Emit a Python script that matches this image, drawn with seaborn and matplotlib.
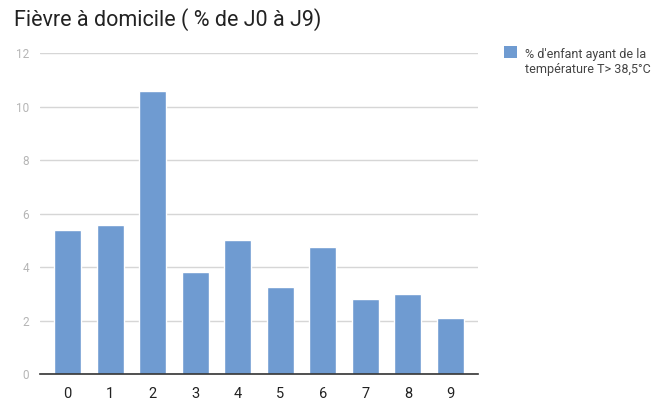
import matplotlib
matplotlib.use("Agg")
import matplotlib.pyplot as plt
from matplotlib.patches import Patch, Rectangle
from matplotlib.legend_handler import HandlerPatch
import seaborn as sns
import pandas as pd

# data
days = ["0", "1", "2", "3", "4", "5", "6", "7", "8", "9"]
fever_pct = [5.38, 5.57, 10.59, 3.80, 5.0, 3.26, 4.77, 2.79, 3.0, 2.08]
y_ticks = [0, 2, 4, 6, 8, 10, 12]
title = "Fièvre à domicile ( % de J0 à J9)"
series_label = "% d'enfant ayant de la\ntempérature T> 38,5°C"

bar_color = "#6f9bd1"

sns.set_theme(style="white")
plt.rcParams["font.family"] = ["Roboto", "DejaVu Sans"]

df = pd.DataFrame({"day": days, "pct": fever_pct})

fig = plt.figure(figsize=(6.51, 4.0), dpi=100)
ax = fig.add_axes([40 / 651, 1 - 374 / 400, 438 / 651, (374 - 53.3) / 400])

sns.barplot(data=df, x="day", y="pct", color=bar_color, width=0.64,
            saturation=1, ax=ax, zorder=3)

ax.set_ylim(0, 12)
ax.set_xlim(-0.65, 9.65)
ax.set_yticks(y_ticks)
ax.set_xlabel("")
ax.set_ylabel("")
ax.grid(axis="y", color="#d6d6d6", linewidth=1, zorder=0)
ax.grid(axis="x", visible=False)
for s in ["top", "right", "left"]:
    ax.spines[s].set_visible(False)
ax.spines["bottom"].set_color("#333333")
ax.spines["bottom"].set_linewidth(1.2)
ax.spines["bottom"].set_zorder(4)

ax.tick_params(axis="y", length=0, pad=8, labelsize=8.5, labelcolor="#b5b5b5")
ax.tick_params(axis="x", length=0, pad=9, labelsize=10.5, labelcolor="#222222")

fig.text(14 / 651, 1 - 20 / 400, title, fontsize=15.5, color="#222222",
         ha="left", va="center")


# legend square sits next to the first text line, not centred on both
def top_square(legend, orig_handle, xdescent, ydescent, width, height, fontsize):
    return Rectangle((-xdescent, -ydescent + 7.5), width, height)


handle = Patch(facecolor=bar_color, edgecolor="none")
fig.legend([handle], [series_label], loc="upper left",
           bbox_to_anchor=(499 / 651, 1 - 43 / 400), frameon=False,
           fontsize=9.0, labelcolor="#444444", handlelength=1.0,
           handleheight=1.1, handletextpad=0.7, borderaxespad=0,
           handler_map={Patch: HandlerPatch(patch_func=top_square)})

fig.savefig("out.png", dpi=100)
